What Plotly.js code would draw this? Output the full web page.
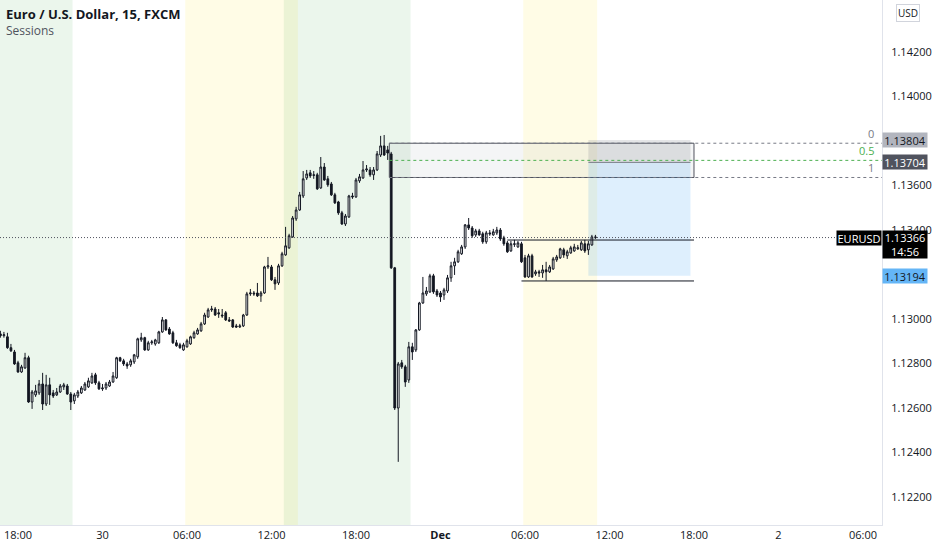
<!DOCTYPE html>
<html>
<head>
<meta charset="utf-8">
<script src="https://cdn.plot.ly/plotly-3.0.1.min.js"></script>
<style>
  html, body { margin: 0; padding: 0; background: #ffffff; }
  #chart { width: 932px; height: 550px; }
</style>
</head>
<body>
<div id="chart"></div>
<script>
// ── EURUSD 15m candles (first bar 29 Nov 16:45) ──
const openPx = [
  1.12933, 1.12925, 1.12920, 1.12871, 1.12852, 1.12803, 1.12762, 1.12780, 1.12826, 1.12627,
  1.12659, 1.12668, 1.12708, 1.12618, 1.12704, 1.12668, 1.12659, 1.12672, 1.12695, 1.12699,
  1.12663, 1.12632, 1.12654, 1.12668, 1.12681, 1.12695, 1.12713, 1.12749, 1.12713, 1.12686,
  1.12690, 1.12699, 1.12717, 1.12736, 1.12826, 1.12812, 1.12798, 1.12794, 1.12807, 1.12830,
  1.12906, 1.12916, 1.12861, 1.12893, 1.12888, 1.12893, 1.12942, 1.12996, 1.12955, 1.12938,
  1.12893, 1.12884, 1.12861, 1.12875, 1.12888, 1.12916, 1.12933, 1.12947, 1.12978, 1.13009,
  1.13041, 1.13045, 1.13028, 1.13018, 1.13028, 1.12996, 1.12996, 1.12969, 1.12964, 1.12969,
  1.13018, 1.13113, 1.13117, 1.13117, 1.13104, 1.13117, 1.13234, 1.13234, 1.13176, 1.13162,
  1.13239, 1.13288, 1.13320, 1.13369, 1.13450, 1.13490, 1.13553, 1.13634, 1.13657, 1.13648,
  1.13648, 1.13589, 1.13683, 1.13630, 1.13607, 1.13558, 1.13526, 1.13477, 1.13427, 1.13459,
  1.13553, 1.13549, 1.13621, 1.13634, 1.13670, 1.13670, 1.13648, 1.13670, 1.13737, 1.13778,
  1.13760, 1.13742, 1.13230, 1.12600, 1.12803, 1.12785, 1.12726, 1.12875, 1.12861, 1.12951,
  1.13072, 1.13113, 1.13122, 1.13194, 1.13126, 1.13117, 1.13108, 1.13126, 1.13185, 1.13239,
  1.13257, 1.13293, 1.13324, 1.13423, 1.13409, 1.13378, 1.13396, 1.13383, 1.13347, 1.13387,
  1.13378, 1.13387, 1.13400, 1.13365, 1.13342, 1.13306, 1.13338, 1.13324, 1.13338, 1.13275,
  1.13189, 1.13284, 1.13203, 1.13212, 1.13207, 1.13221, 1.13212, 1.13225, 1.13266, 1.13275,
  1.13311, 1.13284, 1.13297, 1.13306, 1.13315, 1.13311, 1.13338, 1.13311, 1.13333, 1.13369,
];
const highPx = [
  1.12947, 1.12942, 1.12938, 1.12888, 1.12861, 1.12812, 1.12794, 1.12848, 1.12835, 1.12681,
  1.12704, 1.12726, 1.12758, 1.12749, 1.12736, 1.12681, 1.12690, 1.12708, 1.12713, 1.12708,
  1.12672, 1.12668, 1.12681, 1.12699, 1.12717, 1.12736, 1.12758, 1.12758, 1.12722, 1.12708,
  1.12717, 1.12726, 1.12762, 1.12830, 1.12830, 1.12821, 1.12807, 1.12821, 1.12843, 1.12916,
  1.12938, 1.12920, 1.12902, 1.12906, 1.12911, 1.12947, 1.13009, 1.13000, 1.12964, 1.12947,
  1.12906, 1.12893, 1.12893, 1.12911, 1.12925, 1.12947, 1.12960, 1.12987, 1.13028, 1.13050,
  1.13059, 1.13054, 1.13045, 1.13045, 1.13036, 1.13009, 1.13000, 1.12978, 1.12978, 1.13023,
  1.13122, 1.13135, 1.13126, 1.13162, 1.13126, 1.13239, 1.13279, 1.13243, 1.13189, 1.13248,
  1.13302, 1.13414, 1.13383, 1.13463, 1.13504, 1.13571, 1.13665, 1.13670, 1.13670, 1.13665,
  1.13657, 1.13728, 1.13701, 1.13643, 1.13616, 1.13567, 1.13531, 1.13486, 1.13472, 1.13558,
  1.13567, 1.13634, 1.13652, 1.13710, 1.13692, 1.13683, 1.13683, 1.13755, 1.13823, 1.13827,
  1.13778, 1.13751, 1.13234, 1.12807, 1.12816, 1.12794, 1.12897, 1.12893, 1.12955, 1.13077,
  1.13189, 1.13144, 1.13203, 1.13203, 1.13135, 1.13126, 1.13140, 1.13198, 1.13257, 1.13275,
  1.13311, 1.13333, 1.13427, 1.13454, 1.13418, 1.13405, 1.13405, 1.13392, 1.13396, 1.13400,
  1.13405, 1.13414, 1.13409, 1.13374, 1.13351, 1.13351, 1.13356, 1.13351, 1.13347, 1.13288,
  1.13293, 1.13293, 1.13221, 1.13221, 1.13243, 1.13257, 1.13243, 1.13279, 1.13288, 1.13320,
  1.13320, 1.13311, 1.13329, 1.13338, 1.13333, 1.13351, 1.13356, 1.13351, 1.13378, 1.13378,
];
const lowPx = [
  1.12916, 1.12916, 1.12866, 1.12852, 1.12794, 1.12758, 1.12758, 1.12776, 1.12623, 1.12596,
  1.12650, 1.12659, 1.12591, 1.12609, 1.12614, 1.12645, 1.12654, 1.12668, 1.12681, 1.12659,
  1.12591, 1.12618, 1.12645, 1.12663, 1.12677, 1.12690, 1.12708, 1.12704, 1.12681, 1.12677,
  1.12681, 1.12695, 1.12713, 1.12731, 1.12807, 1.12789, 1.12776, 1.12785, 1.12798, 1.12821,
  1.12897, 1.12857, 1.12857, 1.12884, 1.12880, 1.12888, 1.12938, 1.12947, 1.12929, 1.12888,
  1.12875, 1.12866, 1.12857, 1.12871, 1.12884, 1.12911, 1.12929, 1.12942, 1.12973, 1.13005,
  1.13032, 1.13014, 1.13005, 1.13005, 1.12991, 1.12987, 1.12960, 1.12960, 1.12960, 1.12964,
  1.13014, 1.13104, 1.13104, 1.13099, 1.13077, 1.13113, 1.13225, 1.13171, 1.13131, 1.13153,
  1.13234, 1.13284, 1.13315, 1.13365, 1.13441, 1.13486, 1.13544, 1.13625, 1.13634, 1.13630,
  1.13580, 1.13585, 1.13621, 1.13594, 1.13553, 1.13517, 1.13468, 1.13423, 1.13418, 1.13454,
  1.13540, 1.13544, 1.13612, 1.13630, 1.13661, 1.13639, 1.13625, 1.13665, 1.13728, 1.13733,
  1.13715, 1.13225, 1.12591, 1.12358, 1.12776, 1.12695, 1.12713, 1.12816, 1.12852, 1.12947,
  1.13068, 1.13104, 1.13117, 1.13113, 1.13099, 1.13077, 1.13086, 1.13117, 1.13167, 1.13198,
  1.13252, 1.13288, 1.13315, 1.13400, 1.13365, 1.13369, 1.13374, 1.13338, 1.13338, 1.13374,
  1.13374, 1.13378, 1.13351, 1.13329, 1.13297, 1.13302, 1.13324, 1.13320, 1.13252, 1.13185,
  1.13185, 1.13185, 1.13194, 1.13189, 1.13185, 1.13171, 1.13207, 1.13221, 1.13257, 1.13270,
  1.13275, 1.13270, 1.13293, 1.13302, 1.13311, 1.13306, 1.13297, 1.13288, 1.13329, 1.13360,
];
const closePx = [
  1.12925, 1.12929, 1.12871, 1.12857, 1.12798, 1.12762, 1.12785, 1.12826, 1.12627, 1.12672,
  1.12677, 1.12708, 1.12618, 1.12704, 1.12659, 1.12654, 1.12672, 1.12699, 1.12704, 1.12663,
  1.12627, 1.12659, 1.12672, 1.12690, 1.12708, 1.12722, 1.12744, 1.12713, 1.12686, 1.12690,
  1.12708, 1.12717, 1.12744, 1.12826, 1.12812, 1.12798, 1.12789, 1.12812, 1.12839, 1.12911,
  1.12916, 1.12861, 1.12893, 1.12897, 1.12906, 1.12942, 1.12996, 1.12951, 1.12933, 1.12893,
  1.12880, 1.12871, 1.12884, 1.12902, 1.12920, 1.12938, 1.12951, 1.12978, 1.13018, 1.13041,
  1.13045, 1.13018, 1.13023, 1.13014, 1.12996, 1.12991, 1.12964, 1.12964, 1.12969, 1.13018,
  1.13113, 1.13117, 1.13113, 1.13104, 1.13117, 1.13234, 1.13239, 1.13176, 1.13158, 1.13239,
  1.13293, 1.13329, 1.13374, 1.13454, 1.13490, 1.13558, 1.13630, 1.13652, 1.13643, 1.13646,
  1.13585, 1.13683, 1.13625, 1.13603, 1.13558, 1.13522, 1.13477, 1.13427, 1.13463, 1.13553,
  1.13549, 1.13625, 1.13639, 1.13670, 1.13674, 1.13648, 1.13670, 1.13742, 1.13778, 1.13737,
  1.13746, 1.13230, 1.12600, 1.12798, 1.12785, 1.12717, 1.12875, 1.12852, 1.12951, 1.13072,
  1.13117, 1.13126, 1.13194, 1.13122, 1.13108, 1.13099, 1.13131, 1.13185, 1.13239, 1.13257,
  1.13302, 1.13324, 1.13423, 1.13409, 1.13374, 1.13396, 1.13378, 1.13347, 1.13387, 1.13383,
  1.13392, 1.13400, 1.13360, 1.13338, 1.13302, 1.13338, 1.13336, 1.13342, 1.13257, 1.13189,
  1.13284, 1.13189, 1.13212, 1.13207, 1.13221, 1.13212, 1.13234, 1.13270, 1.13279, 1.13315,
  1.13288, 1.13302, 1.13320, 1.13324, 1.13320, 1.13342, 1.13306, 1.13338, 1.13369, 1.13366,
];

// axis ticks (1.13800 and 1.13200 sit under the drawing price tags)
const priceTicks = [1.122, 1.124, 1.126, 1.128, 1.130, 1.134, 1.136, 1.140, 1.142, 1.144];
const timeTicks = [
  '2021-11-29 18:00', '2021-11-30 00:00', '2021-11-30 06:00', '2021-11-30 12:00',
  '2021-11-30 18:00', '2021-12-01 00:00', '2021-12-01 06:00', '2021-12-01 12:00',
  '2021-12-01 18:00', '2021-12-02 00:00', '2021-12-02 06:00',
];
const timeTickText = ['18:00', '30', '06:00', '12:00', '18:00', '<b>Dec</b>', '06:00', '12:00', '18:00', '2', '06:00'];

// sessions: [start, end, colour]
const sessions = [
  ['2021-11-29 12:52:30', '2021-11-29 21:52:30', 'rgba(76,175,80,0.11)'],
  ['2021-11-30 05:52:30', '2021-11-30 13:52:30', 'rgba(255,235,59,0.13)'],
  ['2021-11-30 12:52:30', '2021-11-30 21:52:30', 'rgba(76,175,80,0.11)'],
  ['2021-12-01 05:52:30', '2021-12-01 11:07:30', 'rgba(255,235,59,0.13)'],
];

// drawings
const fibStart = '2021-11-30 20:22';
const fibBoxEnd = '2021-12-01 18:00';
const fibLevels = [['0', 1.13790, '#787b86'], ['0.5', 1.13713, '#4caf50'], ['1', 1.13636, '#787b86']];
const posStart = '2021-12-01 10:30';
const posEnd = '2021-12-01 17:45';
const posTop = 1.13804, posEntry = 1.13704, posStop = 1.13194;
const rangeHigh = 1.13355, rangeLow = 1.13171;
const lastPrice = 1.13366;

const X_RANGE = ['2021-11-29 16:43:20', '2021-12-02 07:21:00'];
const Y_RANGE = [1.120742, 1.144337];

const START = Date.UTC(2021, 10, 29, 16, 45);
const times = closePx.map((_, i) =>
  new Date(START + i * 15 * 60000).toISOString().slice(0, 16).replace('T', ' '));

const INK = '#131722';
const FONT = "'Open Sans', 'Noto Sans', sans-serif";

const traces = [{
  type: 'candlestick',
  x: times, open: openPx, high: highPx, low: lowPx, close: closePx,
  increasing: { line: { color: INK, width: 1 }, fillcolor: '#ffffff' },
  decreasing: { line: { color: INK, width: 1 }, fillcolor: INK },
  whiskerwidth: 0,
  hoverinfo: 'skip',
  showlegend: false,
}];

const shapes = [];

// session backgrounds
sessions.forEach(([a, b, c]) => shapes.push({
  type: 'rect', xref: 'x', yref: 'paper', x0: a, x1: b, y0: 0, y1: 1,
  fillcolor: c, line: { width: 0 }, layer: 'below',
}));

// fib box + levels
shapes.push({
  type: 'rect', xref: 'x', yref: 'y', x0: fibStart, x1: fibBoxEnd,
  y0: fibLevels[2][1], y1: fibLevels[0][1],
  fillcolor: 'rgba(120,123,134,0.08)', line: { color: '#50535e', width: 1 }, layer: 'below',
});
fibLevels.forEach(([, p, c]) => shapes.push({
  type: 'line', xref: 'x', yref: 'y', x0: fibStart, x1: X_RANGE[1], y0: p, y1: p,
  line: { color: c, width: 1, dash: '3px,3px' },
}));

// long position box
shapes.push({
  type: 'rect', xref: 'x', yref: 'y', x0: posStart, x1: posEnd, y0: posEntry, y1: posTop,
  fillcolor: 'rgba(120,123,134,0.2)', line: { width: 0 }, layer: 'below',
});
shapes.push({
  type: 'rect', xref: 'x', yref: 'y', x0: posStart, x1: posEnd, y0: posStop, y1: posEntry,
  fillcolor: 'rgba(33,150,243,0.15)', line: { width: 0 }, layer: 'below',
});
shapes.push({
  type: 'line', xref: 'x', yref: 'y', x0: posStart, x1: posEnd, y0: posEntry, y1: posEntry,
  line: { color: '#787b86', width: 1 },
});

// range lines
shapes.push({
  type: 'line', xref: 'x', yref: 'y', x0: '2021-12-01 04:45', x1: fibBoxEnd, y0: rangeHigh, y1: rangeHigh,
  line: { color: INK, width: 1 },
});
shapes.push({
  type: 'line', xref: 'x', yref: 'y', x0: '2021-12-01 05:45', x1: fibBoxEnd, y0: rangeLow, y1: rangeLow,
  line: { color: INK, width: 1 },
});

// last price line
shapes.push({
  type: 'line', xref: 'paper', yref: 'y', x0: 0, x1: 1, y0: lastPrice, y1: lastPrice,
  line: { color: '#50535e', width: 1, dash: '1px,2px' },
});

const tag = (price, text, bg, color) => ({
  xref: 'paper', yref: 'y', x: 1, y: price, xanchor: 'left', yanchor: 'middle',
  text, showarrow: false, bgcolor: bg, width: 44, height: 14, borderpad: 0,
  font: { family: FONT, size: 11, color },
});

const annotations = [
  {
    xref: 'paper', yref: 'paper', x: 0, y: 1, xanchor: 'left', yanchor: 'top', xshift: 5, yshift: -4,
    text: '<b>Euro / U.S. Dollar, 15, FXCM</b>', showarrow: false, borderpad: 0, height: 17,
    font: { family: FONT, size: 13, color: INK },
  },
  {
    xref: 'paper', yref: 'paper', x: 0, y: 1, xanchor: 'left', yanchor: 'top', xshift: 5, yshift: -22,
    text: 'Sessions', showarrow: false, borderpad: 0, height: 15,
    font: { family: FONT, size: 12, color: '#50535e' },
  },
  ...fibLevels.map(([lab, p, c]) => ({
    xref: 'paper', yref: 'y', x: 1, y: p, xanchor: 'right', yanchor: 'bottom', xshift: -6, yshift: 0,
    text: lab, showarrow: false, font: { family: FONT, size: 11, color: c },
  })),
  tag(posTop, '1.13804', '#b2b5be', INK),
  tag(posEntry, '1.13704', '#50535e', '#ffffff'),
  tag(posStop, '1.13194', '#64b5f6', INK),
  {
    xref: 'paper', yref: 'y', x: 1, y: lastPrice, xanchor: 'right', yanchor: 'top', yshift: 8,
    text: 'EURUSD', showarrow: false, bgcolor: '#000000', width: 44, height: 14, borderpad: 0,
    font: { family: FONT, size: 11, color: '#ffffff' },
  },
  {
    xref: 'paper', yref: 'y', x: 1, y: lastPrice, xanchor: 'left', yanchor: 'top', yshift: 8,
    text: '1.13366<br>14:56', showarrow: false, bgcolor: '#000000', width: 44, height: 27, borderpad: 0,
    font: { family: FONT, size: 11, color: '#ffffff' },
  },
  {
    xref: 'paper', yref: 'paper', x: 1, y: 1, xanchor: 'left', yanchor: 'top', xshift: 14, yshift: -4,
    text: 'USD', showarrow: false, bgcolor: '#ffffff', bordercolor: '#d1d4dc', borderwidth: 1, borderpad: 1,
    font: { family: FONT, size: 10, color: INK },
  },
];

const layout = {
  width: 932, height: 550,
  paper_bgcolor: '#ffffff', plot_bgcolor: '#ffffff',
  margin: { l: 0, r: 50, t: 0, b: 25 },
  font: { family: FONT, size: 11, color: INK },
  showlegend: false,
  xaxis: {
    type: 'date', range: X_RANGE, rangeslider: { visible: false },
    tickvals: timeTicks, ticktext: timeTickText,
    showgrid: false, zeroline: false,
    showline: true, linecolor: '#e0e3eb', linewidth: 1,
    ticks: '', tickfont: { family: FONT, size: 11, color: INK },
  },
  yaxis: {
    side: 'right', range: Y_RANGE,
    tickvals: priceTicks, tickformat: '.5f',
    showgrid: false, zeroline: false,
    showline: true, linecolor: '#e0e3eb', linewidth: 1,
    ticks: '', ticklabelstandoff: 6,
    tickfont: { family: FONT, size: 11, color: INK },
  },
  shapes,
  annotations,
};

Plotly.newPlot('chart', traces, layout, { staticPlot: true, displayModeBar: false });
</script>
</body>
</html>
